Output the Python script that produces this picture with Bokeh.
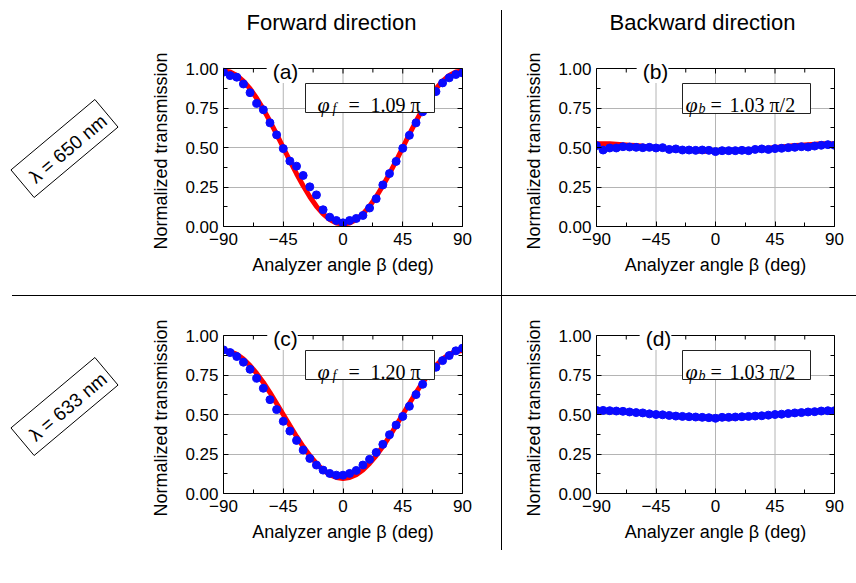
from bokeh.plotting import figure
from bokeh.models import Range1d, LinearAxis, FixedTicker, Label, BoxAnnotation, Title, Spacer, Div
from bokeh.layouts import row, column
from bokeh.embed import file_html
from bokeh.resources import INLINE

# ---------------- data ----------------
angles = [-90, -85, -80, -75, -70, -65, -60, -55, -50, -45, -40, -35, -30, -25, -20, -15, -10, -5,
          0, 5, 10, 15, 20, 25, 30, 35, 40, 45, 50, 55, 60, 65, 70, 75, 80, 85, 90]

meas_a = [0.977, 0.955, 0.945, 0.902, 0.847, 0.779, 0.739, 0.656, 0.580, 0.493, 0.414, 0.382, 0.323,
          0.251, 0.200, 0.106, 0.059, 0.038, 0.023, 0.038, 0.051, 0.070, 0.117, 0.176, 0.263, 0.335,
          0.412, 0.495, 0.577, 0.656, 0.726, 0.800, 0.854, 0.909, 0.941, 0.962, 0.972]
fit_a = [0.985, 0.978, 0.956, 0.920, 0.872, 0.812, 0.743, 0.666, 0.584, 0.500, 0.416, 0.334, 0.258,
         0.188, 0.128, 0.080, 0.044, 0.022, 0.015, 0.022, 0.044, 0.080, 0.128, 0.188, 0.258, 0.334,
         0.416, 0.500, 0.584, 0.666, 0.743, 0.812, 0.872, 0.920, 0.956, 0.978, 0.985]

meas_b = [0.512, 0.484, 0.497, 0.497, 0.505, 0.503, 0.501, 0.499, 0.501, 0.497, 0.499, 0.488, 0.491,
          0.484, 0.484, 0.482, 0.484, 0.482, 0.474, 0.480, 0.480, 0.480, 0.482, 0.480, 0.488, 0.491,
          0.488, 0.493, 0.495, 0.499, 0.501, 0.505, 0.503, 0.509, 0.514, 0.518, 0.514]
fit_b = [0.524, 0.524, 0.523, 0.521, 0.518, 0.515, 0.512, 0.508, 0.504, 0.500, 0.496, 0.492, 0.488,
         0.485, 0.482, 0.479, 0.477, 0.476, 0.476, 0.476, 0.477, 0.479, 0.482, 0.485, 0.488, 0.492,
         0.496, 0.500, 0.504, 0.508, 0.512, 0.515, 0.518, 0.521, 0.523, 0.524, 0.524]

meas_c = [0.909, 0.892, 0.867, 0.831, 0.786, 0.729, 0.666, 0.594, 0.531, 0.457, 0.395, 0.336, 0.275,
          0.222, 0.180, 0.148, 0.127, 0.116, 0.116, 0.127, 0.146, 0.180, 0.216, 0.260, 0.311, 0.372,
          0.433, 0.488, 0.552, 0.626, 0.691, 0.745, 0.799, 0.841, 0.873, 0.903, 0.920]
fit_c = [0.905, 0.899, 0.881, 0.851, 0.810, 0.760, 0.703, 0.639, 0.570, 0.500, 0.430, 0.361, 0.297,
         0.240, 0.190, 0.149, 0.119, 0.101, 0.095, 0.101, 0.119, 0.149, 0.190, 0.240, 0.297, 0.361,
         0.430, 0.500, 0.570, 0.639, 0.703, 0.760, 0.810, 0.851, 0.881, 0.899, 0.905]

meas_d = [0.526, 0.526, 0.524, 0.522, 0.520, 0.516, 0.512, 0.510, 0.504, 0.500, 0.498, 0.494, 0.490,
          0.488, 0.486, 0.484, 0.482, 0.480, 0.476, 0.482, 0.482, 0.484, 0.486, 0.488, 0.490, 0.492,
          0.496, 0.500, 0.502, 0.506, 0.510, 0.512, 0.516, 0.518, 0.522, 0.524, 0.524]
fit_d = [0.524, 0.524, 0.523, 0.521, 0.518, 0.515, 0.512, 0.508, 0.504, 0.500, 0.496, 0.492, 0.488,
         0.485, 0.482, 0.479, 0.477, 0.476, 0.476, 0.476, 0.477, 0.479, 0.482, 0.485, 0.488, 0.492,
         0.496, 0.500, 0.504, 0.508, 0.512, 0.515, 0.518, 0.521, 0.523, 0.524, 0.524]

x_ticks = [-90, -45, 0, 45, 90]
x_tick_labels = ["\u221290", "\u221245", "0", "45", "90"]
x_minor = [-67.5, -22.5, 22.5, 67.5]
y_ticks = [0.0, 0.25, 0.5, 0.75, 1.0]
y_tick_labels = ["0.00", "0.25", "0.50", "0.75", "1.00"]
y_minor = [0.125, 0.375, 0.625, 0.875]

col_titles = ["Forward direction", "Backward direction"]
row_labels = ["\u03bb = 650 nm", "\u03bb = 633 nm"]
panel_tags = ["(a)", "(b)", "(c)", "(d)"]
phase_subs = ["f", "b", "f", "b"]
phase_nums = ["1.09 \u03c0", "1.03 \u03c0/2", "1.20 \u03c0", "1.03 \u03c0/2"]
x_label = "Analyzer angle \u03b2 (deg)"
y_label = "Normalized transmission"

SANS = "Liberation Sans"
SERIF = "Liberation Serif"
BLUE = "#0a0aff"
RED = "#ff0000"
GRID = "#b4b4b4"


class Geo:
    """Pixel geometry of one panel figure (frame starts at the figure top)."""
    def __init__(self, W, H, fl, fw, y1, y0):
        self.W, self.H, self.fl, self.fw, self.y1, self.y0 = W, H, fl, fw, y1, y0

    def x(self, X):
        return -90 + (X - self.fl) * 180.0 / self.fw

    def y(self, Y):
        return (self.y0 - Y) / (self.y0 - self.y1)

    def ypx(self, n):
        return n / (self.y0 - self.y1)


def make_panel(g, meas, fit):
    p = figure(width=g.W, height=g.H, x_range=Range1d(-90, 90),
               y_range=Range1d(0, g.y(0)),
               output_backend="svg", toolbar_location=None,
               min_border_left=g.fl, min_border_top=0,
               min_border_right=g.W - g.fl - g.fw, min_border_bottom=g.H - g.y0)
    p.outline_line_color = None
    p.background_fill_color = "white"
    p.border_fill_color = "white"
    xt = FixedTicker(ticks=x_ticks, minor_ticks=x_minor)
    yt = FixedTicker(ticks=y_ticks, minor_ticks=y_minor)
    p.xaxis.ticker = xt
    p.yaxis.ticker = yt
    p.xgrid.visible = False
    p.ygrid.ticker = yt
    p.ygrid.grid_line_color = GRID
    p.ygrid.grid_line_width = 1
    p.yaxis.bounds = (0, 1)
    p.xaxis.major_label_overrides = {float(v): s for v, s in zip(x_ticks, x_tick_labels)}
    p.yaxis.major_label_overrides = {float(v): s for v, s in zip(y_ticks, y_tick_labels)}
    p.xaxis.axis_label = x_label
    axes = [p.xaxis[0], p.yaxis[0]]
    right = LinearAxis(ticker=yt, bounds=(0, 1), major_label_text_font_size="0px",
                       major_label_overrides={float(v): "" for v in y_ticks})
    p.add_layout(right, "right")
    for ax in axes + [right]:
        ax.axis_line_color = "black"
        ax.axis_line_width = 1
        ax.major_tick_in = 5
        ax.major_tick_out = 0
        ax.minor_tick_in = 4
        ax.minor_tick_out = 0
        ax.major_tick_line_color = "black"
        ax.minor_tick_line_color = "black"
    for ax in axes:
        ax.major_label_text_font = SANS
        ax.major_label_text_font_size = "17px"
        ax.major_label_text_color = "black"
        ax.axis_label_text_font = SANS
        ax.axis_label_text_font_size = "18px"
        ax.axis_label_text_font_style = "normal"
        ax.axis_label_text_color = "black"
        ax.major_label_standoff = 6
        ax.axis_label_standoff = 7
    p.yaxis.major_label_standoff = 5
    # y axis title, placed along the 0..1 box rather than the whole frame
    p.add_layout(Title(text=y_label, align="right", offset=g.y1 - 16, vertical_align="top",
                       standoff=20, text_font=SANS, text_font_size="18px",
                       text_font_style="normal", text_color="black"), "left")
    # vertical grid lines (only inside the 0..1 box)
    p.segment(x0=x_ticks[1:-1], y0=0, x1=x_ticks[1:-1], y1=1, line_color=GRID, line_width=1)
    # top frame line and inward top ticks
    p.segment(x0=-90, y0=1, x1=90, y1=1, line_color="black", line_width=1)
    p.segment(x0=x_minor, y0=1, x1=x_minor, y1=1 - g.ypx(4), line_color="black", line_width=1)
    p.segment(x0=x_ticks, y0=1, x1=x_ticks, y1=1 - g.ypx(5), line_color="black", line_width=1)
    # data
    p.line(angles, fit, line_color=RED, line_width=5)
    p.scatter(angles, meas, size=8, fill_color=BLUE, line_color=BLUE)
    return p


def add_text(p, x, y, text, size, font=SANS, style="normal", align="center",
             baseline="middle", angle=0, **kw):
    p.add_layout(Label(x=x, y=y, text=text, text_font=font,
                       text_font_size=f"{size}px", text_font_style=style,
                       text_align=align, text_baseline=baseline, text_color="black",
                       angle=angle, angle_units="deg", **kw))


def add_phase(p, g, bl, br, bt, bb, sub, num, offs):
    p.add_layout(BoxAnnotation(left=g.x(bl), right=g.x(br), top=g.y(bt), bottom=g.y(bb),
                               fill_color="white", fill_alpha=1.0, line_color="#222222",
                               line_width=1, line_alpha=1.0))
    base = bt + 21
    o_phi, o_sub, o_eq, o_num = offs
    add_text(p, g.x(bl + o_phi), g.y(base), "\u03c6", 22, font=SERIF, style="italic",
             align="left", baseline="alphabetic")
    add_text(p, g.x(bl + o_sub), g.y(base + 4), sub, 14, font=SERIF, style="italic",
             align="left", baseline="alphabetic")
    add_text(p, g.x(bl + o_eq), g.y(base), "=", 20, font=SERIF,
             align="left", baseline="alphabetic")
    add_text(p, g.x(bl + o_num), g.y(base), num, 20, font=SERIF,
             align="left", baseline="alphabetic")


def strip(W, H, frame_h):
    """Decoration figure whose frame coordinates equal pixels."""
    s = figure(width=W, height=H, x_range=Range1d(0, W), y_range=Range1d(frame_h, 0),
               output_backend="svg", toolbar_location=None,
               x_axis_type=None, y_axis_type=None, min_border=0,
               min_border_bottom=H - frame_h)
    s.outline_line_color = None
    s.background_fill_color = "white"
    s.border_fill_color = "white"
    s.xgrid.visible = False
    s.ygrid.visible = False
    return s


def rule(W, H):
    return Div(text="", width=W, height=H, margin=0,
               styles={"background-color": "black", "width": f"{W}px", "height": f"{H}px",
                       "overflow": "hidden"})


# canvas layout (pixels)
LSW = 140            # left strip width
AW, BW = 361, 354    # panel widths
H1, H2 = 295, 287    # row heights (1 px divider between)

gA = Geo(AW, H1, 83, 239, 68, 226)
gB = Geo(BW, H1, 94, 238, 68, 226)
gC = Geo(AW, H2, 83, 239, 39, 197)
gD = Geo(BW, H2, 94, 238, 39, 197)

pA = make_panel(gA, meas_a, fit_a)
pB = make_panel(gB, meas_b, fit_b)
pC = make_panel(gC, meas_c, fit_c)
pD = make_panel(gD, meas_d, fit_d)

# panel tags sitting on the top frame line
for (p, g), tag, tx in zip([(pA, gA), (pB, gB), (pC, gC), (pD, gD)], panel_tags,
                           [142, 150, 142, 153]):
    add_text(p, g.x(tx), 1.0, tag, 21, background_fill_color="white", padding=(6, 0, 6, 0))

# phase boxes
offs_f = (12, 27, 43, 65)
offs_b = (3, 16, 28, 47)
add_phase(pA, gA, 165, 294, 83, 112, phase_subs[0], phase_nums[0], offs_f)
add_phase(pB, gB, 180, 308, 83, 113, phase_subs[1], phase_nums[1], offs_b)
add_phase(pC, gC, 165, 294, 54, 83, phase_subs[2], phase_nums[2], offs_f)
add_phase(pD, gD, 180, 308, 54, 83, phase_subs[3], phase_nums[3], offs_b)

# column titles
add_text(pA, gA.x(191), gA.y(22), col_titles[0], 22, baseline="alphabetic")
add_text(pB, gB.x(200), gB.y(22), col_titles[1], 22, baseline="alphabetic")

# left strips with rotated boxed wavelength labels
sL1 = strip(LSW, H1, gA.y0)
sL2 = strip(LSW, H2, gC.y0)
add_text(sL1, 64, 148, row_labels[0], 19, angle=40, border_line_color="black",
         background_fill_color="white", padding=(10, 5, 10, 5))
add_text(sL2, 64, 110, row_labels[1], 19, angle=40, border_line_color="black",
         background_fill_color="white", padding=(10, 5, 10, 5))

# dividers
vdiv1 = column(Spacer(width=1, height=10), rule(1, H1 - 10))
vdiv2 = column(rule(1, 254), Spacer(width=1, height=H2 - 254))
TOTW = LSW + AW + 1 + BW
hdiv = row(Spacer(width=12, height=1), rule(TOTW - 12, 1))

layout = column(row(sL1, pA, vdiv1, pB), hdiv, row(sL2, pC, vdiv2, pD))

with open("out.html", "w") as f:
    f.write(file_html(layout, INLINE))
